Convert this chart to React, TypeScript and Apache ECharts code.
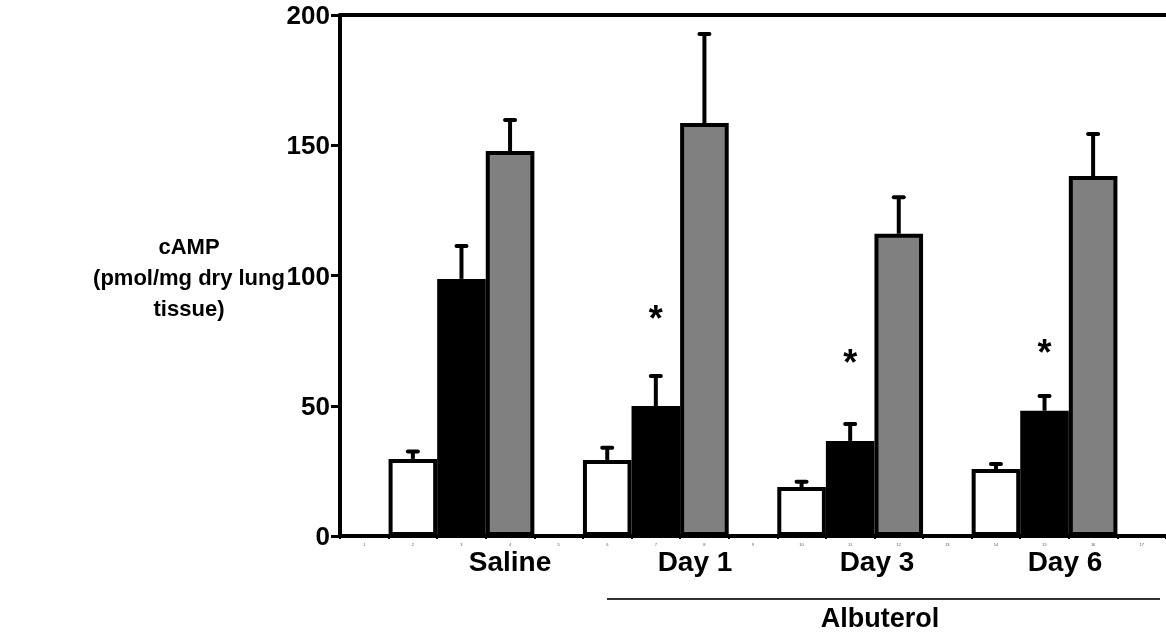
import React, { useEffect, useRef } from "react";
import * as echarts from "echarts";

const categories = ["1", "2", "3", "4", "5", "6", "7", "8", "9", "10", "11", "12", "13", "14", "15", "16", "17"];
const whiteValues = [null, 29.6, null, null, null, 29.2, null, null, null, 18.8, null, null, null, 25.7, null, null, null];
const blackValues = [null, null, 98.7, null, null, null, 49.9, null, null, null, 36.5, null, null, null, 48.1, null, null];
const grayValues = [null, null, null, 147.8, null, null, null, 158.5, null, null, null, 116, null, null, null, 138.2, null];
const whiteErrTop = [null, 32.4, null, null, null, 33.9, null, null, null, 20.8, null, null, null, 27.6, null, null, null];
const blackErrTop = [null, null, 111.3, null, null, null, 61.4, null, null, null, 43, null, null, null, 53.7, null, null];
const grayErrTop = [null, null, null, 159.7, null, null, null, 192.7, null, null, null, 130, null, null, null, 154.3, null];
const starValues = [null, null, null, null, null, null, 86.5, null, null, null, 69.8, null, null, null, 73.5, null, null];
const groupLabels = ["Saline", "Day 1", "Day 3", "Day 6"];
const yMin = 0;
const yMax = 200;
const yInterval = 50;

const FONT = "Liberation Sans, Arial, sans-serif";

export default function App() {
  const ref = useRef<HTMLDivElement>(null);
  useEffect(() => {
    if (!ref.current) return;
    const chart = echarts.init(ref.current, null, { renderer: "svg" });

    const errData: any[] = [];
    [whiteValues, blackValues, grayValues].forEach((vals, s) => {
      const tops = [whiteErrTop, blackErrTop, grayErrTop][s];
      vals.forEach((v, i) => {
        if (v != null && tops[i] != null) errData.push([i, v, tops[i]]);
      });
    });
    const starData: any[] = [];
    starValues.forEach((v, i) => {
      if (v != null) starData.push([i, v]);
    });

    const barStyle = (color: string) => ({
      color,
      borderColor: "#000",
      borderWidth: 4,
    });

    const groupX = [510, 695, 877, 1065];

    chart.setOption({
      animation: false,
      grid: { left: 340, right: -3, top: 15, bottom: 98, containLabel: false },
      xAxis: [
        {
          type: "category",
          data: categories,
          axisLine: { lineStyle: { color: "#000", width: 4 } },
          axisTick: { show: true, length: 3, lineStyle: { color: "#000", width: 2 } },
          axisLabel: { fontSize: 4, color: "#555", margin: 6, fontFamily: FONT },
        },
        {
          type: "category",
          position: "top",
          data: categories,
          axisLine: { lineStyle: { color: "#000", width: 4 } },
          axisTick: { show: false },
          axisLabel: { show: false },
        },
      ],
      yAxis: {
        type: "value",
        min: yMin,
        max: yMax,
        interval: yInterval,
        axisLine: { show: true, lineStyle: { color: "#000", width: 4 } },
        axisTick: { show: true, length: 9, lineStyle: { color: "#000", width: 3 } },
        axisLabel: { fontSize: 26, fontWeight: "bold", color: "#000", margin: 10, fontFamily: FONT },
        splitLine: { show: false },
      },
      series: [
        { type: "bar", data: whiteValues, barGap: "-100%", barCategoryGap: "0%", itemStyle: barStyle("#ffffff") },
        { type: "bar", data: blackValues, barGap: "-100%", barCategoryGap: "0%", itemStyle: barStyle("#000000") },
        { type: "bar", data: grayValues, barGap: "-100%", barCategoryGap: "0%", itemStyle: barStyle("#808080") },
        {
          type: "custom",
          data: errData,
          z: 5,
          renderItem: (params: any, api: any) => {
            const i = api.value(0);
            const base = api.coord([i, api.value(1)]);
            const top = api.coord([i, api.value(2)]);
            return {
              type: "group",
              children: [
                { type: "line", shape: { x1: base[0], y1: base[1], x2: top[0], y2: top[1] }, style: { stroke: "#000", lineWidth: 4 } },
                { type: "line", shape: { x1: top[0] - 5, y1: top[1], x2: top[0] + 5, y2: top[1] }, style: { stroke: "#000", lineWidth: 4, lineCap: "round" } },
              ],
            };
          },
        },
        {
          type: "custom",
          data: starData,
          z: 5,
          renderItem: (params: any, api: any) => {
            const p = api.coord([api.value(0), api.value(1)]);
            return {
              type: "text",
              x: p[0],
              y: p[1] + 8,
              style: { text: "*", fontSize: 36, fontWeight: "bold", fill: "#000", fontFamily: FONT, align: "center", verticalAlign: "middle" },
            };
          },
        },
      ],
      graphic: [
        ...groupLabels.map((t, k) => ({
          type: "text",
          x: groupX[k],
          y: 561,
          style: { text: t, fontSize: 28, fontWeight: "bold", fill: "#000", fontFamily: FONT, align: "center", verticalAlign: "middle" },
        })),
        { type: "line", shape: { x1: 607, y1: 599, x2: 1160, y2: 599 }, style: { stroke: "#333", lineWidth: 2 } },
        {
          type: "text",
          x: 880,
          y: 618,
          style: { text: "Albuterol", fontSize: 27, fontWeight: "bold", fill: "#000", fontFamily: FONT, align: "center", verticalAlign: "middle" },
        },
        {
          type: "text",
          x: 189,
          y: 277,
          style: {
            text: "cAMP\n(pmol/mg dry lung\ntissue)",
            fontSize: 22,
            lineHeight: 31,
            fontWeight: "bold",
            fill: "#000",
            fontFamily: FONT,
            align: "center",
            verticalAlign: "middle",
          },
        },
      ],
    });
    return () => chart.dispose();
  }, []);
  return <div ref={ref} style={{ position: "fixed", left: 0, top: 0, width: 1166, height: 634 }} />;
}
